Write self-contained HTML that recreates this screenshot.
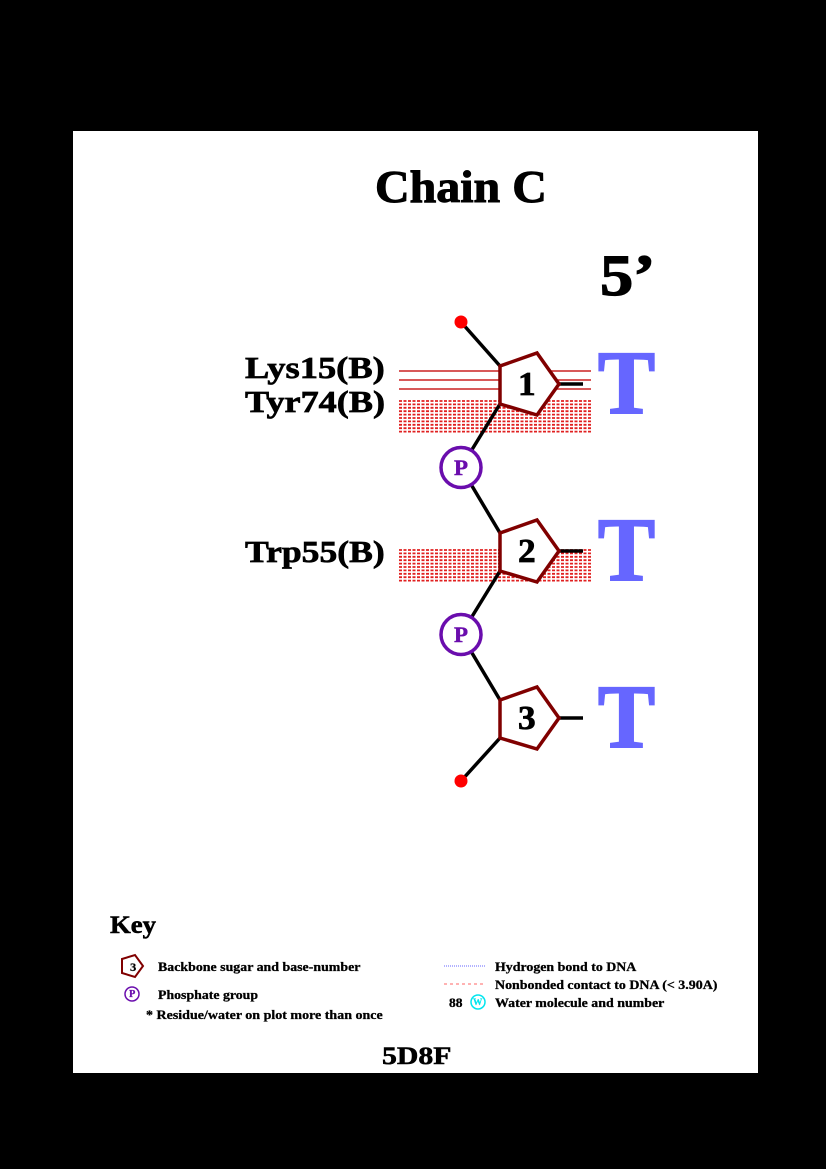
<!DOCTYPE html>
<html><head><meta charset="utf-8"><style>
body{margin:0;background:#000;width:826px;height:1169px;overflow:hidden;position:relative}
svg{display:block;position:absolute;left:0;top:0}
.t{position:absolute;font-family:"Liberation Serif",serif;font-weight:bold;line-height:0;white-space:nowrap;color:#000;-webkit-text-stroke:var(--sw) currentColor}
</style></head><body>
<svg width="826" height="1169" viewBox="0 0 826 1169">
<rect x="0" y="0" width="826" height="1169" fill="#000"/>
<rect x="73" y="131" width="685" height="942" fill="#fff"/>
<g id="plot"></g>
<g>
<polygon points="122,959 135,955 143,966 135,977 122,973" fill="#fff" stroke="#800000" stroke-width="2"/>
<circle cx="132" cy="994" r="7" fill="#fff" stroke="#6a0dad" stroke-width="1.5"/>
<line x1="444" y1="966" x2="486" y2="966" stroke="#6666ff" stroke-width="1" stroke-dasharray="1,1"/>
<line x1="444" y1="984" x2="486" y2="984" stroke="#ff6666" stroke-width="1" stroke-dasharray="3,3"/>
<circle cx="478" cy="1002" r="7" fill="#fff" stroke="#00e5ee" stroke-width="1.5"/>
</g>
</svg>
<div id="labels"></div>
<script>
const nucleotides=[1,2,3];
const bases=["T","T","T"];
const contactResidues=["Lys15(B)","Tyr74(B)","Trp55(B)"];
const contactNucleotide=[1,1,2];
const contactType=["hbond","nonbonded","nonbonded"];
const NS="http://www.w3.org/2000/svg";
const g=document.getElementById('plot');
const L=document.getElementById('labels');
function mk(t,a){const e=document.createElementNS(NS,t);for(const k in a)e.setAttribute(k,a[k]);g.appendChild(e);return e;}
function txt(s,x,y,fs,anchor,col,w){
  const d=document.createElement('div');d.className='t';d.textContent=s;
  d.style.fontSize=fs+'px';d.style.top=(y-0.3375*fs)+'px';
  d.style.setProperty('--sw',(fs*0.022).toFixed(2)+'px');
  if(col)d.style.color=col;
  L.appendChild(d);
  const mw=d.offsetWidth;
  const sc=w?w/mw:1.04;
  const W=mw*sc;
  const left=anchor==='end'?x-W:anchor==='middle'?x-W/2:x;
  d.style.left=left+'px';
  d.style.transformOrigin='0 0';
  d.style.transform='scaleX('+sc.toFixed(3)+')';
  return d;
}
let e;
e=txt('Chain C',461,203,46,'middle',null,172);


e=txt('5’',600,296,58,'start',null,55);


e=txt('Key',110,934,25,'start',null,46);


e=txt('3',133,971,12,'middle');


e=txt('Backbone sugar and base-number',158,971,13,'start',null,202);


e=txt('P',132,998,10,'middle','#6a0dad');


e=txt('Phosphate group',158,999,13,'start',null,100);


e=txt('* Residue/water on plot more than once',146,1019,13,'start',null,237);


e=txt('Hydrogen bond to DNA',495,971,13,'start',null,141);


e=txt('Nonbonded contact to DNA (< 3.90A)',495,989,13,'start',null,222);


e=txt('88',449,1007,13,'start');


e=txt('W',478,1005.5,9,'middle','#00e5ee');


e=txt('Water molecule and number',495,1007,13,'start',null,169);


e=txt('5D8F',416,1065,25,'middle',null,69);



const y0=384,dy=167;
function yOf(i){return y0+(i-1)*dy;}
const labelsByNuc={};
contactResidues.forEach((r,i)=>{const n=contactNucleotide[i];(labelsByNuc[n]=labelsByNuc[n]||[]).push(i);});
contactResidues.forEach((r,i)=>{
  const n=contactNucleotide[i],yc=yOf(n);
  const idx=labelsByNuc[n].indexOf(i),cnt=labelsByNuc[n].length;
  let ly=cnt===1?yc+11:(idx===0?yc-6:yc+28);
  const t=txt(r,385,ly,31,'end',null,r.length*17.5);
  
  
  if(contactType[i]==='hbond'){
    for(let k=0;k<3;k++){const l=mk('line',{x1:399,x2:591,y1:yc-13+k*9,y2:yc-13+k*9,stroke:'#cc2222','stroke-width':1.4});
      
      }
  }else{
    const top=cnt===1?yc-1:yc+17;
    for(let k=0;k<10;k++){const l=mk('line',{x1:399,x2:591,y1:top+k*3.4,y2:top+k*3.4,stroke:'#e02020','stroke-width':1.8,'stroke-dasharray':'3,1.5'});
      
      }
  }
});
nucleotides.forEach((n,i)=>{
  const yc=yOf(n);
  if(i===0){const l=mk('line',{x1:461,y1:yc-62,x2:500,y2:yc-18,stroke:'#000','stroke-width':3.5});
    
    const d=mk('circle',{cx:461,cy:yc-62,r:6.5,fill:'#ff0000'});
    }
  if(i<nucleotides.length-1){
    const py=yc+dy/2;
    const a=mk('line',{x1:500,y1:yc+20,x2:461,y2:py,stroke:'#000','stroke-width':3.5});
    
    const b=mk('line',{x1:461,y1:py,x2:500,y2:yc+dy-18,stroke:'#000','stroke-width':3.5});
    
    const c=mk('circle',{cx:461,cy:py,r:20,fill:'#fff',stroke:'#6a0dad','stroke-width':3.5});
    
    const t=txt('P',461,py+8,22,'middle','#6a0dad');
    
  } else {
    const l=mk('line',{x1:500,y1:yc+20,x2:461,y2:yc+63,stroke:'#000','stroke-width':3.5});
    
    const d=mk('circle',{cx:461,cy:yc+63,r:6.5,fill:'#ff0000'});
    
  }
  const s=mk('line',{x1:559,y1:yc,x2:583,y2:yc,stroke:'#000','stroke-width':3.5});
  
  const p=mk('polygon',{points:`500,${yc-18} 537,${yc-31} 559,${yc} 537,${yc+31} 500,${yc+20}`,fill:'#fff',stroke:'#800000','stroke-width':3.5});
  
  const t=txt(String(n),527,yc+12,34,'middle');
  
  const b=txt(bases[i],626,yc+30,90,'middle','#6666ff',57);
  
});
</script>
</body></html>
